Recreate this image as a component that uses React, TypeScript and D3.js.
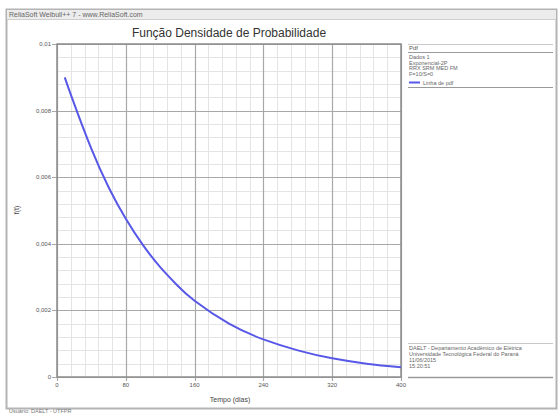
import { useEffect, useRef } from "react";
import * as d3 from "d3";

// values
const days = [9, 20, 40, 60, 80, 100, 120, 140, 160, 200, 240, 280, 320, 360, 400];
const pdf = [0.009, 0.0082, 0.00685, 0.0057, 0.00475, 0.00396, 0.0033, 0.00275, 0.00229, 0.0016, 0.00113, 0.0008, 0.00056, 0.0004, 0.00029];

const xTicks = [0, 80, 160, 240, 320, 400];
const yTicks = [0, 0.002, 0.004, 0.006, 0.008, 0.01];

const legendLines = ["Dados 1", "Exponencial-2P", "RRX SRM MED FM", "F=10/S=0"];
const infoLines = [
    "DAELT - Departamento Acadêmico de Elétrica",
    "Universidade Tecnológica Federal do Paraná",
    "11/06/2015",
    "15:20:51",
];

const FONT = "'Liberation Sans', Arial, sans-serif";

export default function App() {
    const ref = useRef<SVGSVGElement | null>(null);

    useEffect(() => {
        if (!ref.current) return;
        const svg = d3.select(ref.current);
        svg.selectAll("*").remove();

        const W = 559;
        const H = 414;
        const plot = { left: 57, right: 401, top: 44, bottom: 377 };

        const x = d3.scaleLinear().domain([0, 400]).range([plot.left, plot.right]);
        const y = d3.scaleLinear().domain([0, 0.01]).range([plot.bottom, plot.top]);
        const ptBR = d3.formatLocale({ decimal: ",", thousands: ".", grouping: [3], currency: ["R$", ""] });
        const fmtY = (v: number) => (v === 0 ? "0" : ptBR.format("~g")(v));

        svg.append("rect").attr("width", W).attr("height", H).attr("fill", "#fff");

        // window frame
        svg.append("rect")
            .attr("x", 6.5).attr("y", 9.5).attr("width", 550).attr("height", 399)
            .attr("fill", "#fff").attr("stroke", "#b4b4b4").attr("stroke-width", 2);
        svg.append("rect")
            .attr("x", 7).attr("y", 10).attr("width", 549).attr("height", 9)
            .attr("fill", "#ececec");
        svg.append("line")
            .attr("x1", 7).attr("x2", 556).attr("y1", 19.5).attr("y2", 19.5)
            .attr("stroke", "#cfcfcf");
        svg.append("text")
            .attr("x", 9).attr("y", 17)
            .attr("font-family", FONT).attr("font-size", 7).attr("fill", "#666")
            .text("ReliaSoft Weibull++ 7 - www.ReliaSoft.com");

        // title
        svg.append("text")
            .attr("x", 229).attr("y", 37).attr("text-anchor", "middle")
            .attr("font-family", FONT).attr("font-size", 12).attr("fill", "#333")
            .text("Função Densidade de Probabilidade");

        // grid
        const g = svg.append("g");
        const minorX = d3.range(0, 401, 16).filter(v => v % 80 !== 0);
        const minorY = d3.range(0, 0.01001, 0.0004).filter(v => Math.abs(v / 0.002 - Math.round(v / 0.002)) > 1e-6);
        g.selectAll(".mx").data(minorX).enter().append("line")
            .attr("x1", d => Math.round(x(d)) + 0.5).attr("x2", d => Math.round(x(d)) + 0.5)
            .attr("y1", plot.top).attr("y2", plot.bottom)
            .attr("stroke", "#e4e4e4").attr("stroke-width", 1);
        g.selectAll(".my").data(minorY).enter().append("line")
            .attr("x1", plot.left).attr("x2", plot.right)
            .attr("y1", d => Math.round(y(d)) + 0.5).attr("y2", d => Math.round(y(d)) + 0.5)
            .attr("stroke", "#e4e4e4").attr("stroke-width", 1);
        g.selectAll(".Mx").data(xTicks).enter().append("line")
            .attr("x1", d => Math.round(x(d)) + 0.5).attr("x2", d => Math.round(x(d)) + 0.5)
            .attr("y1", plot.top).attr("y2", plot.bottom + 4)
            .attr("stroke", "#a8a8a8").attr("stroke-width", 1.2);
        g.selectAll(".My").data(yTicks).enter().append("line")
            .attr("x1", plot.left - 5).attr("x2", plot.right)
            .attr("y1", d => Math.round(y(d)) + 0.5).attr("y2", d => Math.round(y(d)) + 0.5)
            .attr("stroke", "#a8a8a8").attr("stroke-width", 1.2);

        svg.append("rect")
            .attr("x", plot.left).attr("y", plot.top)
            .attr("width", plot.right - plot.left).attr("height", plot.bottom - plot.top)
            .attr("fill", "none").attr("stroke", "#8c8c8c").attr("stroke-width", 1.5);

        // tick labels
        svg.selectAll(".yl").data(yTicks).enter().append("text")
            .attr("x", plot.left - 6).attr("y", d => y(d) + 2)
            .attr("text-anchor", "end")
            .attr("font-family", FONT).attr("font-size", 6).attr("fill", "#555")
            .text(d => fmtY(d));
        svg.selectAll(".xl").data(xTicks).enter().append("text")
            .attr("x", d => x(d)).attr("y", plot.bottom + 10)
            .attr("text-anchor", "middle")
            .attr("font-family", FONT).attr("font-size", 6).attr("fill", "#555")
            .text(d => String(d));

        // axis titles
        svg.append("text")
            .attr("x", 230).attr("y", 402).attr("text-anchor", "middle")
            .attr("font-family", FONT).attr("font-size", 7).attr("fill", "#444")
            .text("Tempo (dias)");
        svg.append("text")
            .attr("transform", "translate(19,210) rotate(-90)")
            .attr("text-anchor", "middle")
            .attr("font-family", FONT).attr("font-size", 7).attr("fill", "#444")
            .text("f(t)");

        // curve
        const line = d3.line<number>()
            .x((_, i) => x(days[i]))
            .y(d => y(d))
            .curve(d3.curveNatural);
        svg.append("path")
            .attr("d", line(pdf))
            .attr("fill", "none").attr("stroke", "#5858e8").attr("stroke-width", 2);

        // legend box
        const lx = 408;
        const lr = 553;
        svg.append("line").attr("x1", lx).attr("x2", lr).attr("y1", 44.5).attr("y2", 44.5).attr("stroke", "#c8c8c8");
        svg.append("text")
            .attr("x", lx + 1).attr("y", 50)
            .attr("font-family", FONT).attr("font-size", 6).attr("fill", "#555")
            .text("Pdf");
        svg.append("line").attr("x1", lx).attr("x2", lr).attr("y1", 52.5).attr("y2", 52.5).attr("stroke", "#9a9a9a").attr("stroke-width", 1.2);
        svg.selectAll(".lg").data(legendLines).enter().append("text")
            .attr("x", lx + 1).attr("y", (_, i) => 59 + i * 5.6)
            .attr("font-family", FONT).attr("font-size", 5.5).attr("fill", "#666")
            .text(d => d);
        svg.append("line").attr("x1", lx + 1).attr("x2", lx + 12).attr("y1", 82.5).attr("y2", 82.5)
            .attr("stroke", "#5858e8").attr("stroke-width", 2);
        svg.append("text")
            .attr("x", lx + 15).attr("y", 84.5)
            .attr("font-family", FONT).attr("font-size", 5.5).attr("fill", "#666")
            .text("Linha de pdf");
        svg.append("line").attr("x1", lx).attr("x2", lr).attr("y1", 87.5).attr("y2", 87.5).attr("stroke", "#9a9a9a").attr("stroke-width", 1.2);

        // info box
        svg.append("line").attr("x1", lx).attr("x2", lr).attr("y1", 343.5).attr("y2", 343.5).attr("stroke", "#c8c8c8");
        svg.selectAll(".inf").data(infoLines).enter().append("text")
            .attr("x", lx + 1).attr("y", (_, i) => 350 + i * 6)
            .attr("font-family", FONT).attr("font-size", 5.5).attr("fill", "#666")
            .text(d => d);
        svg.append("line").attr("x1", lx).attr("x2", lr).attr("y1", 377.5).attr("y2", 377.5).attr("stroke", "#9a9a9a").attr("stroke-width", 1.5);

        // status bar under the frame
        svg.append("text")
            .attr("x", 9).attr("y", 413)
            .attr("font-family", FONT).attr("font-size", 5.5).attr("fill", "#777")
            .text("Usuário: DAELT - UTFPR");
    }, []);

    return (
        <svg
            ref={ref}
            width={559}
            height={414}
            style={{ position: "absolute", left: 0, top: 0, display: "block" }}
        />
    );
}
